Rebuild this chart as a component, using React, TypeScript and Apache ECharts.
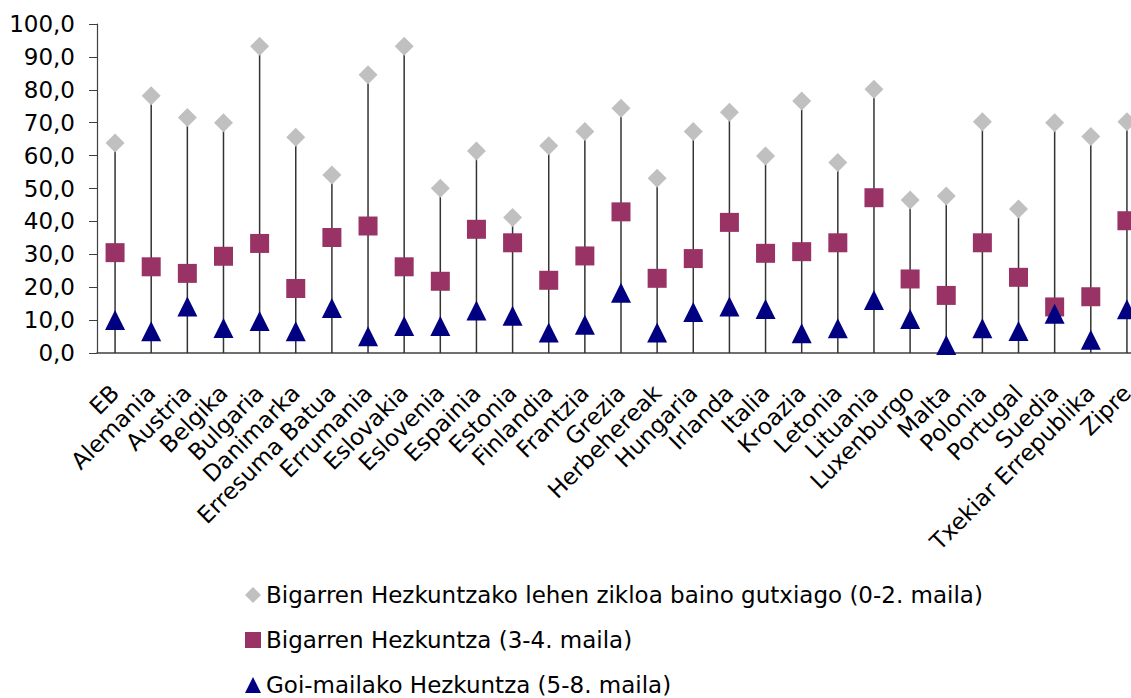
import React, { useEffect, useRef } from "react";
import * as echarts from "echarts";

const categories = ["EB","Alemania","Austria","Belgika","Bulgaria","Danimarka","Erresuma Batua","Errumania","Eslovakia","Eslovenia","Espainia","Estonia","Finlandia","Frantzia","Grezia","Herbehereak","Hungaria","Irlanda","Italia","Kroazia","Letonia","Lituania","Luxenburgo","Malta","Polonia","Portugal","Suedia","Txekiar Errepublika","Zipre"];

const lowEdu = [63.8, 78.2, 71.6, 70.0, 93.2, 65.6, 54.1, 84.6, 93.2, 50.1, 61.4, 41.2, 63.0, 67.3, 74.4, 53.1, 67.3, 73.2, 59.9, 76.6, 57.9, 80.2, 46.5, 47.7, 70.3, 43.8, 70.0, 65.8, 70.3];
const midEdu = [30.5, 26.2, 24.2, 29.4, 33.3, 19.6, 35.1, 38.6, 26.2, 21.8, 37.6, 33.5, 22.1, 29.5, 42.9, 22.7, 28.7, 39.7, 30.3, 30.8, 33.5, 47.2, 22.5, 17.5, 33.5, 23.0, 14.0, 17.1, 40.2];
const highEdu = [10.0, 6.6, 14.1, 7.6, 9.7, 6.6, 13.7, 5.1, 8.2, 8.2, 12.9, 11.3, 6.2, 8.6, 18.3, 6.2, 12.5, 14.1, 13.4, 6.0, 7.5, 16.1, 10.3, 2.4, 7.5, 6.7, 11.9, 4.0, 13.3];

const seriesNames = [
  "Bigarren Hezkuntzako lehen zikloa baino gutxiago (0-2. maila)",
  "Bigarren Hezkuntza (3-4. maila)",
  "Goi-mailako Hezkuntza (5-8. maila)",
];

const yTicks = { min: 0, max: 100, interval: 10 };

export default function App() {
  const ref = useRef<HTMLDivElement>(null);
  useEffect(() => {
    if (!ref.current) return;
    const chart = echarts.init(ref.current, null, { renderer: "svg" });
    const stems = categories.map((_, i) => [i, Math.max(lowEdu[i], midEdu[i], highEdu[i])]);
    chart.setOption({
      animation: false,
      textStyle: { fontFamily: "DejaVu Sans", color: "#000" },
      grid: { left: 97, right: 15, top: 24, bottom: 345 },
      legend: {
        orient: "vertical",
        left: 245,
        top: 583,
        height: 115,
        padding: 0,
        itemWidth: 16,
        itemHeight: 16,
        itemGap: 21,
        textStyle: { fontSize: 23, color: "#000", fontFamily: "DejaVu Sans", lineHeight: 24 },
        data: [
          { name: seriesNames[0], icon: "diamond" },
          { name: seriesNames[1], icon: "rect" },
          { name: seriesNames[2], icon: "triangle" },
        ],
      },
      xAxis: {
        type: "category",
        data: categories,
        boundaryGap: true,
        axisLine: { lineStyle: { color: "#404040", width: 1.5 } },
        axisTick: { show: false },
        axisLabel: {
          rotate: 45,
          interval: 0,
          margin: 36,
          fontSize: 23,
          color: "#000",
          fontFamily: "DejaVu Sans",
        },
      },
      yAxis: {
        type: "value",
        min: yTicks.min,
        max: yTicks.max,
        interval: yTicks.interval,
        splitLine: { show: false },
        axisLine: { show: true, lineStyle: { color: "#404040", width: 1.2 } },
        axisTick: { show: true, length: 8, lineStyle: { color: "#404040" } },
        axisLabel: {
          margin: 22,
          fontSize: 23,
          color: "#000",
          fontFamily: "DejaVu Sans",
          formatter: (v: number) => v.toFixed(1).replace(".", ","),
        },
      },
      series: [
        {
          type: "custom",
          name: "stems",
          z: 1,
          data: stems,
          renderItem: (params: any, api: any) => {
            const p0 = api.coord([api.value(0), 0]);
            const p1 = api.coord([api.value(0), api.value(1)]);
            return {
              type: "line",
              shape: { x1: p0[0], y1: p0[1], x2: p1[0], y2: p1[1] },
              style: { stroke: "#333333", lineWidth: 1.5 },
            };
          },
        },
        {
          type: "scatter",
          name: seriesNames[0],
          z: 3,
          symbol: "diamond",
          symbolSize: [19, 19],
          itemStyle: { color: "#C0C0C0", opacity: 1 },
          data: lowEdu,
        },
        {
          type: "scatter",
          name: seriesNames[1],
          z: 4,
          symbol: "rect",
          symbolSize: [19, 19],
          itemStyle: { color: "#993366", opacity: 1 },
          data: midEdu,
        },
        {
          type: "scatter",
          name: seriesNames[2],
          z: 5,
          symbol: "triangle",
          symbolSize: [20, 20],
          itemStyle: { color: "#000080", opacity: 1 },
          data: highEdu,
        },
      ],
    });
    return () => chart.dispose();
  }, []);
  return (
    <div style={{ position: "fixed", left: 0, top: 0, width: 1131, height: 698, overflow: "hidden", background: "#fff" }}>
      <div ref={ref} style={{ width: 1160, height: 698 }} />
    </div>
  );
}
